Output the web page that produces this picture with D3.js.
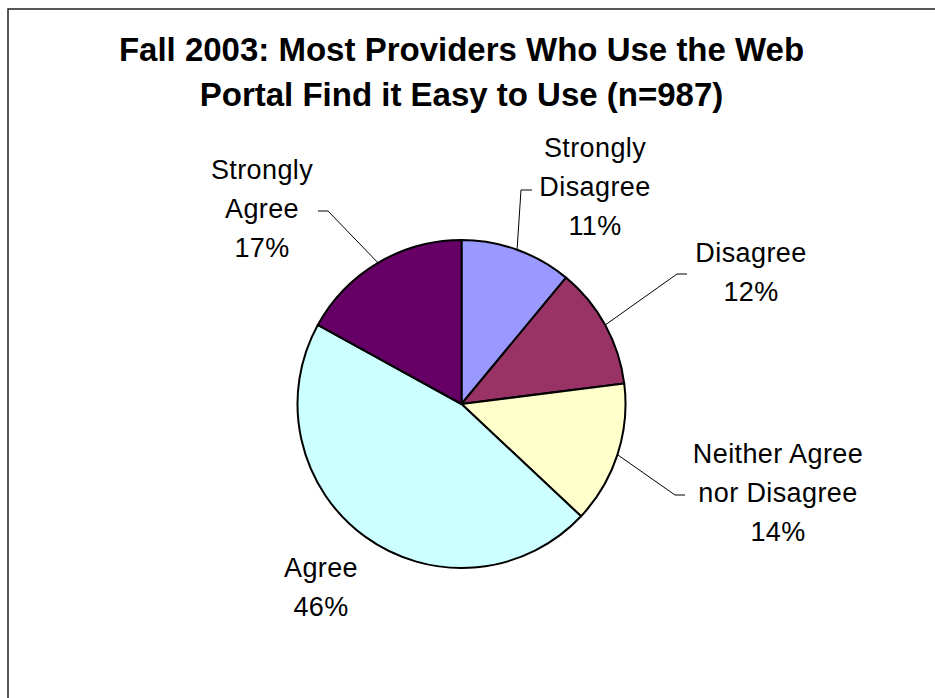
<!DOCTYPE html>
<html lang="en">
  <head>
    <meta charset="UTF-8" />
    <title>Fall 2003 Web Portal Ease of Use</title>
    <script src="https://d3js.org/d3.v7.min.js"></script>
    <style>
      body { margin: 0; background: #fff; }
      svg { display: block; font-family: Arial, "Liberation Sans", sans-serif; }
    </style>
  </head>
  <body>
    <div id="chart-container"></div>

    <script>
      // Data
      const categories = ['Strongly Disagree', 'Disagree', 'Neither Agree nor Disagree', 'Agree', 'Strongly Agree'];
      const values = [11, 12, 14, 46, 17];
      const labelLines = [
        ['Strongly', 'Disagree', '11%'],
        ['Disagree', '12%'],
        ['Neither Agree', 'nor Disagree', '14%'],
        ['Agree', '46%'],
        ['Strongly', 'Agree', '17%'],
      ];
      const colors = ['#9999FF', '#993366', '#FFFFCC', '#CCFFFF', '#660066'];

      // label layout: text centre x, first baseline y, leader tick (x1 -> x2, y)
      const labelLayout = [
        { x: 595, y: 157, tick: [532, 521, 190] },
        { x: 751, y: 262, tick: [687, 677, 274] },
        { x: 778, y: 463, tick: [685, 675, 495] },
        { x: 321, y: 577, tick: null },
        { x: 262, y: 179, tick: [318, 328, 211] },
      ];

      const svgWidth = 935;
      const svgHeight = 698;
      const cx = 461.5;
      const cy = 404;
      const radius = 164;
      const lineH = 39;

      const svg = d3
        .select('#chart-container')
        .append('svg')
        .attr('width', svgWidth)
        .attr('height', svgHeight);

      // chart area border (open at right and bottom)
      svg
        .append('rect')
        .attr('x', 8)
        .attr('y', 9)
        .attr('width', 1000)
        .attr('height', 1000)
        .attr('fill', 'none')
        .attr('stroke', '#222')
        .attr('stroke-width', 1.5);

      // Title
      const title = svg
        .append('text')
        .attr('text-anchor', 'middle')
        .style('font-size', '33px')
        .style('font-weight', 'bold');
      title.append('tspan').attr('x', cx).attr('y', 61).text('Fall 2003: Most Providers Who Use the Web');
      title.append('tspan').attr('x', cx).attr('y', 106).text('Portal Find it Easy to Use (n=987)');

      const data = categories.map((c, i) => ({ name: c, value: values[i], i }));

      const pie = d3.pie().sort(null).value((d) => d.value);
      const arcs = pie(data);
      const arc = d3.arc().innerRadius(0).outerRadius(radius);

      const g = svg.append('g').attr('transform', `translate(${cx},${cy})`);

      g.selectAll('path')
        .data(arcs)
        .enter()
        .append('path')
        .attr('d', arc)
        .attr('fill', (d) => colors[d.data.i])
        .attr('stroke', '#000')
        .attr('stroke-width', 2)
        .attr('stroke-linejoin', 'round');

      // Leader lines
      arcs.forEach((a, i) => {
        const lay = labelLayout[i];
        if (!lay.tick) return;
        const mid = (a.startAngle + a.endAngle) / 2;
        const px = cx + radius * Math.sin(mid);
        const py = cy - radius * Math.cos(mid);
        const [x1, x2, ty] = lay.tick;
        svg
          .append('polyline')
          .attr('points', `${x1},${ty} ${x2},${ty} ${px},${py}`)
          .attr('fill', 'none')
          .attr('stroke', '#000')
          .attr('stroke-width', 1);
      });

      // Labels
      labelLines.forEach((lines, i) => {
        const lay = labelLayout[i];
        const t = svg
          .append('text')
          .attr('text-anchor', 'middle')
          .attr('fill', '#000')
          .style('font-size', '27px')
          .style('letter-spacing', '0.4px');
        lines.forEach((ln, k) => {
          t.append('tspan')
            .attr('x', lay.x)
            .attr('y', lay.y + k * lineH)
            .text(ln);
        });
      });
    </script>
  </body>
</html>
